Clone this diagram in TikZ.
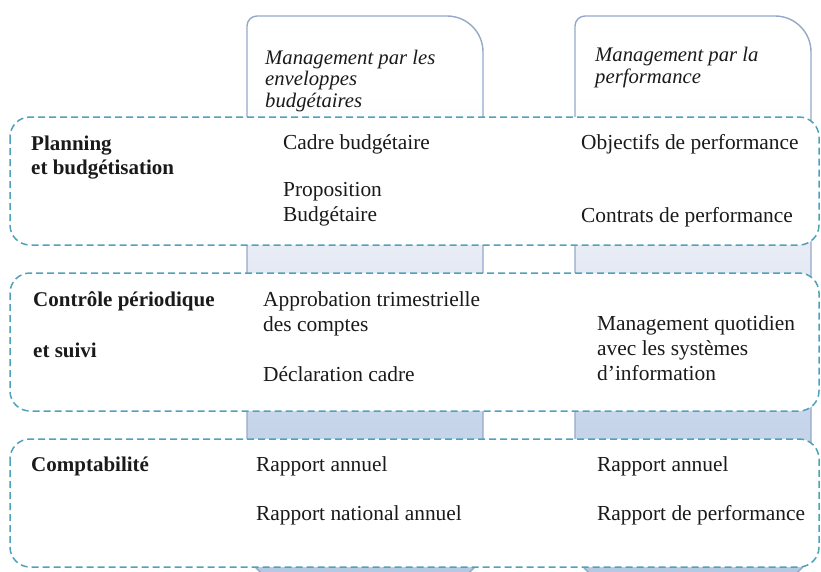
\documentclass[tikz,border=0pt]{standalone}
\usepackage{fontspec}
\setmainfont{Liberation Serif}
\definecolor{dashc}{HTML}{4FA2B9}
\definecolor{colline}{HTML}{94A8C8}
\definecolor{cA}{HTML}{E6EAF4}
\definecolor{cB}{HTML}{C6D5EA}
\definecolor{cC}{HTML}{B4C8E2}
\definecolor{txt}{HTML}{1A1A1A}
\pgfdeclareverticalshading{colshade}{100bp}{color(0bp)=(cC); color(25bp)=(cC); color(39bp)=(cB); color(53bp)=(cA); color(68bp)=(white); color(100bp)=(white)}
\tikzset{
  rowbox/.style={draw=dashc, line width=1.5pt, dash pattern=on 7pt off 4pt, fill=white, rounded corners=20pt},
  colbox/.style={draw=colline, line width=1.4pt, shading=colshade},
  body/.style={anchor=base west, inner sep=0pt, align=left, text=txt, font=\fontsize{21.4}{25}\selectfont},
  lbl/.style={body, font=\fontsize{21}{24}\selectfont\bfseries},
  hdr/.style={body, font=\fontsize{20.7}{21.5}\selectfont\itshape}
}
\begin{document}
\begin{tikzpicture}[x=1pt,y=-1pt]
\useasboundingbox (0,0) rectangle (821,571);
% columns
\path[colbox] (247,580) [rounded corners=10pt] -- (247,16) [rounded corners=36pt] -- (483,16) -- (483,580) -- cycle;
\path[colbox] (575,580) [rounded corners=10pt] -- (575,16) [rounded corners=36pt] -- (811,16) -- (811,580) -- cycle;
% headers (base = last line)
\node[hdr] (h1) at (265,107) {Management par les\\enveloppes\\budgétaires};
\node[hdr] (h2) at (595,83) {Management par la\\performance};
% rows
\path[rowbox] (10,117) rectangle (819,245);
\path[rowbox] (10,273) rectangle (819,411);
\path[rowbox] (10,439) rectangle (819,567);
% row 1
\node[lbl] (l1) at (31,174) {Planning\\et budgétisation};
\node[body] (a1) at (283,149) {Cadre budgétaire};
\node[body] (a2) at (283,221) {Proposition\\Budgétaire};
\node[body] (b1) at (581,149) {Objectifs de performance};
\node[body] (b2) at (581,222) {Contrats de performance};
% row 2
\node[lbl] (l2) at (33,306) {Contrôle périodique};
\node[lbl] (l3) at (33,357) {et suivi};
\node[body] (a3) at (263,331) {Approbation trimestrielle\\des comptes};
\node[body] (a4) at (263,381) {Déclaration cadre};
\node[body] (b3) at (597,380) {Management quotidien\\avec les systèmes\\d’information};
% row 3
\node[lbl] (l4) at (31,471) {Comptabilité};
\node[body] (a5) at (256,471) {Rapport annuel};
\node[body] (a6) at (256,520) {Rapport national annuel};
\node[body] (b4) at (597,471) {Rapport annuel};
\node[body] (b5) at (597,520) {Rapport de performance};
\end{tikzpicture}
\end{document}
